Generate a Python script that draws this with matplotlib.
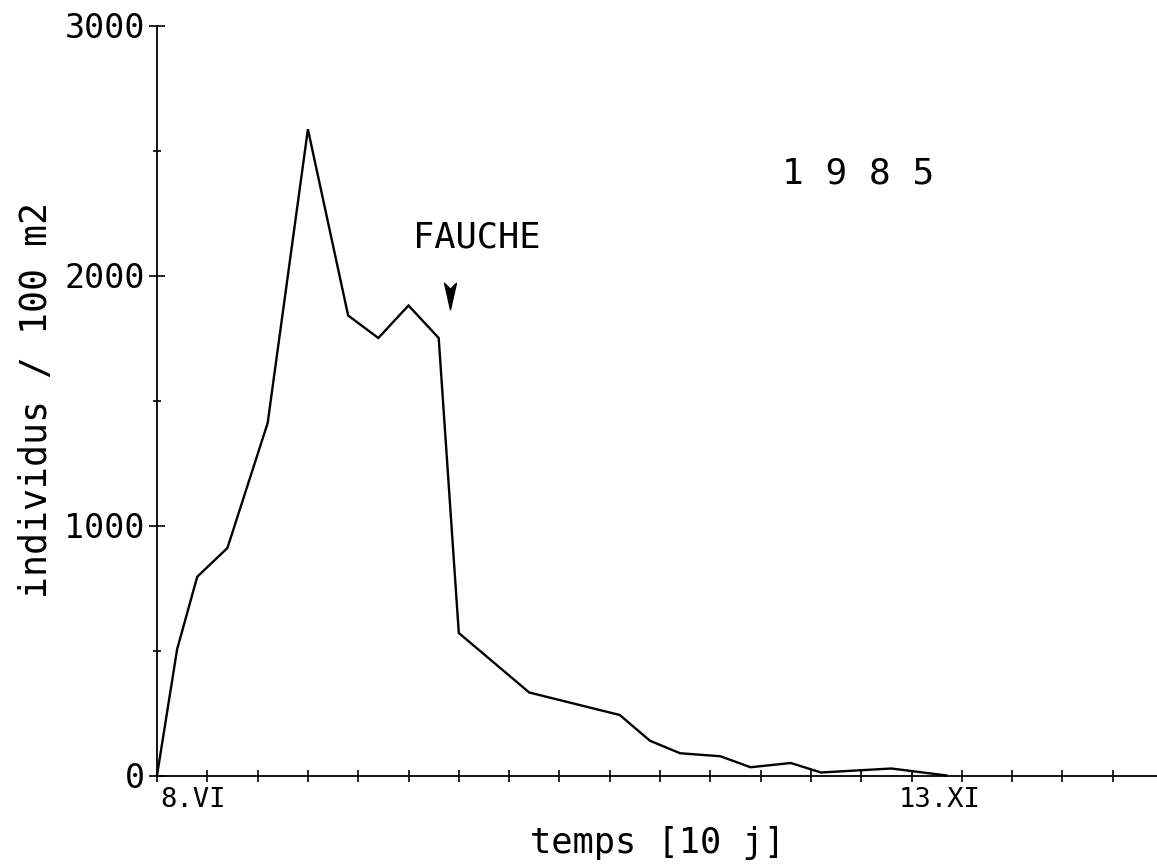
import matplotlib
matplotlib.use("Agg")
import matplotlib.pyplot as plt
from matplotlib.path import Path
from matplotlib.ticker import MultipleLocator, FixedLocator

# Data (time in units of 10 days from 8.VI)
temps = [0, 0.4, 0.8, 1.4, 2.2, 3.0, 3.8, 4.4, 5.0, 5.6, 6.0, 7.4, 9.2, 9.8,
         10.4, 11.2, 11.8, 12.6, 13.2, 14.6, 15.7]
individus = [0, 505, 795, 910, 1410, 2585, 1840, 1750, 1880, 1750, 570, 332,
             242, 139, 89, 77, 33, 50, 12, 28, 0]
y_major = [0, 1000, 2000, 3000]
y_minor = [500, 1500, 2500]
date_labels = ["8.VI", "13.XI"]
date_pos = [0.06, 15.55]
fauche_x, fauche_y = 6.36, 2150
arrow_x, arrow_y = 5.83, 1918
year_text = "1 9 8 5"
year_x, year_y = 13.94, 2407

plt.rcParams['font.family'] = ['DejaVu Sans Mono']

fig = plt.figure(figsize=(11.57, 8.67), dpi=100)
ax = fig.add_axes([157 / 1157, 91.5 / 867, 1 - 157 / 1157, 750 / 867])

ax.plot(temps, individus, color='black', lw=1.7, solid_joinstyle='miter', clip_on=False)

ax.set_xlim(0, 19.88)
ax.set_ylim(0, 3000)

for s in ['top', 'right']:
    ax.spines[s].set_visible(False)
for s in ['left', 'bottom']:
    ax.spines[s].set_linewidth(1.3)

ax.xaxis.set_major_locator(MultipleLocator(1))
ax.set_xticklabels([])
ax.tick_params(axis='x', which='major', direction='inout', length=8, width=1.2)

ax.yaxis.set_major_locator(FixedLocator(y_major))
ax.yaxis.set_minor_locator(FixedLocator(y_minor))
ax.set_yticklabels([str(v) for v in y_major])
ax.tick_params(axis='y', which='major', direction='inout', length=11.5, width=1.2,
               labelsize=24, pad=3)
ax.tick_params(axis='y', which='minor', direction='inout', length=6, width=1.2)

ax.set_ylabel("individus / 100 m2", fontsize=26.3, labelpad=7)
ax.set_xlabel("temps [10 j]", fontsize=25.5, labelpad=29)

for lab, xp, ha in zip(date_labels, date_pos, ['left', 'center']):
    ax.text(xp, -45, lab, fontsize=19.5, ha=ha, va='top', clip_on=False)

ax.text(fauche_x, fauche_y, "FAUCHE", fontsize=25.5, ha='center', va='center')
ax.text(year_x, year_y, year_text, fontsize=26, ha='center', va='center')

arrow_marker = Path([(0, -1), (-0.45, 1), (0, 0.55), (0.45, 1), (0, -1)],
                    [Path.MOVETO, Path.LINETO, Path.LINETO, Path.LINETO, Path.CLOSEPOLY])
ax.plot([arrow_x], [arrow_y], marker=arrow_marker, markersize=19, color='black',
        linestyle='none')

fig.savefig("out.png", dpi=100, facecolor='white')
